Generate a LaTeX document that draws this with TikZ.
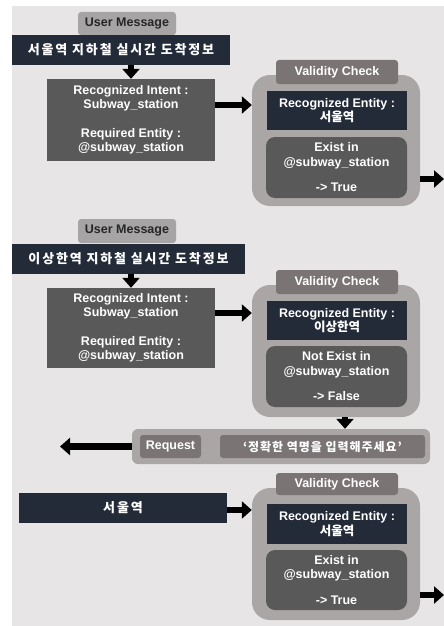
\documentclass[tikz,border=0pt]{standalone}
\usepackage{fontspec}
\setmainfont{Liberation Sans}
\newfontfamily\krfont{Noto Sans CJK KR}
\usetikzlibrary{positioning, calc, arrows.meta}

\definecolor{bggray}{HTML}{E7E5E5}
\definecolor{navy}{HTML}{232B39}
\definecolor{darkbox}{HTML}{595959}
\definecolor{taglight}{HTML}{A6A4A4}
\definecolor{tagdark}{HTML}{7A7474}
\definecolor{shell}{HTML}{AAA6A6}

\begin{document}
\begin{tikzpicture}[x=1pt, y=-1pt,
    txt/.style={font=\fontsize{12.5}{14.5}\selectfont\bfseries, align=center, inner sep=0pt, text=white},
    kr/.style={font=\fontsize{13}{15}\selectfont\krfont\bfseries\addfontfeatures{LetterSpace=14}, inner sep=0pt, text=white},
    usertag/.style={txt, fill=taglight, text=black!85, rounded corners=3pt},
    vtag/.style={txt, fill=tagdark, rounded corners=3pt},
    navybox/.style={fill=navy},
    graybox/.style={txt, fill=darkbox},
    vshell/.style={fill=shell, rounded corners=18pt, inner sep=0pt},
    barrow/.style={line width=6.5pt, -{Triangle[length=10pt, width=17pt]}}]

    % frame and background
    \useasboundingbox (0,0) rectangle (444,626);
    \fill[bggray] (12,6) rectangle (444,626);

    % ---- first query ----
    \node[usertag, minimum width=98, minimum height=23] (umsg1) at (127,23.5) {User Message};
    \node[navybox, kr, minimum width=218, minimum height=30] (msg1) at (121,50) {서울역 지하철 실시간 도착정보};
    \node[graybox, minimum width=168, minimum height=82] (intent1) at (131,120)
        {Recognized Intent :\\Subway\_station\\[14pt]Required Entity :\\@subway\_station};
    \node[vshell, minimum width=168, minimum height=131] (valid1) at (336,140.5) {};
    \node[vtag, minimum width=122, minimum height=24] (vlab1) at (337,72) {Validity Check};
    \node[txt, fill=navy, minimum width=140, minimum height=39] (ent1) at (337,110.5)
        {Recognized Entity :\\{\krfont 서울역}};
    \node[graybox, rounded corners=9pt, minimum width=141, minimum height=61] (exist1) at (336.5,167.5)
        {Exist in\\@subway\_station\\[11pt]-> True};
    \coordinate (out1) at (444,179);

    \draw[barrow] (intent1.north |- msg1.south) -- (intent1.north);
    \draw[barrow] ([yshift=15pt]intent1.east) -- ([yshift=15pt]intent1.east -| valid1.west);
    \draw[barrow] (valid1.east |- out1) -- (out1);

    % ---- second query ----
    \node[usertag, minimum width=98, minimum height=24] (umsg2) at (127,231) {User Message};
    \node[navybox, kr, minimum width=233, minimum height=30] (msg2) at (128.5,258.5) {이상한역 지하철 실시간 도착정보};
    \node[graybox, minimum width=168, minimum height=80] (intent2) at (131,328)
        {Recognized Intent :\\Subway\_station\\[14pt]Required Entity :\\@subway\_station};
    \node[vshell, minimum width=168, minimum height=132] (valid2) at (336,351) {};
    \node[vtag, minimum width=122, minimum height=24] (vlab2) at (337,282) {Validity Check};
    \node[txt, fill=navy, minimum width=140, minimum height=39] (ent2) at (337,320.5)
        {Recognized Entity :\\{\krfont 이상한역}};
    \node[graybox, rounded corners=9pt, minimum width=141, minimum height=61] (exist2) at (336.5,376.5)
        {Not Exist in\\@subway\_station\\[11pt]-> False};

    \draw[barrow] (intent2.north |- msg2.south) -- (intent2.north);
    \draw[barrow] ([yshift=15pt]intent2.east) -- ([yshift=15pt]intent2.east -| valid2.west);

    % request back to the user
    \node[vshell, rounded corners=6pt, minimum width=298, minimum height=35] (req) at (281,446.5) {};
    \node[vtag, minimum width=61, minimum height=23] (reqlab) at (170.5,446.5) {Request};
    \node[vtag, font=\fontsize{12}{14}\selectfont\krfont\bfseries\addfontfeatures{LetterSpace=8},
        minimum width=205, minimum height=23] (reqmsg) at (322.5,446.5) {‘정확한 역명을 입력해주세요’};
    \coordinate (back) at (60,446.5);

    \draw[barrow] ([xshift=9pt]valid2.south) -- ([xshift=9pt]valid2.south |- req.north);
    \draw[barrow] (req.west) -- (back);

    % ---- corrected input ----
    \node[navybox, kr, minimum width=208, minimum height=30] (msg3) at (123,508) {서울역};
    \node[vshell, minimum width=168, minimum height=132] (valid3) at (336,554) {};
    \node[vtag, minimum width=122, minimum height=22] (vlab3) at (337,484) {Validity Check};
    \node[txt, fill=navy, minimum width=140, minimum height=40] (ent3) at (337,524)
        {Recognized Entity :\\{\krfont 서울역}};
    \node[graybox, rounded corners=9pt, minimum width=141, minimum height=60] (exist3) at (336.5,580)
        {Exist in\\@subway\_station\\[11pt]-> True};
    \coordinate (out3) at (444,595);

    \draw[barrow] ([yshift=-2pt]msg3.east) -- ([yshift=-2pt]msg3.east -| valid3.west);
    \draw[barrow] (valid3.east |- out3) -- (out3);
\end{tikzpicture}
\end{document}
